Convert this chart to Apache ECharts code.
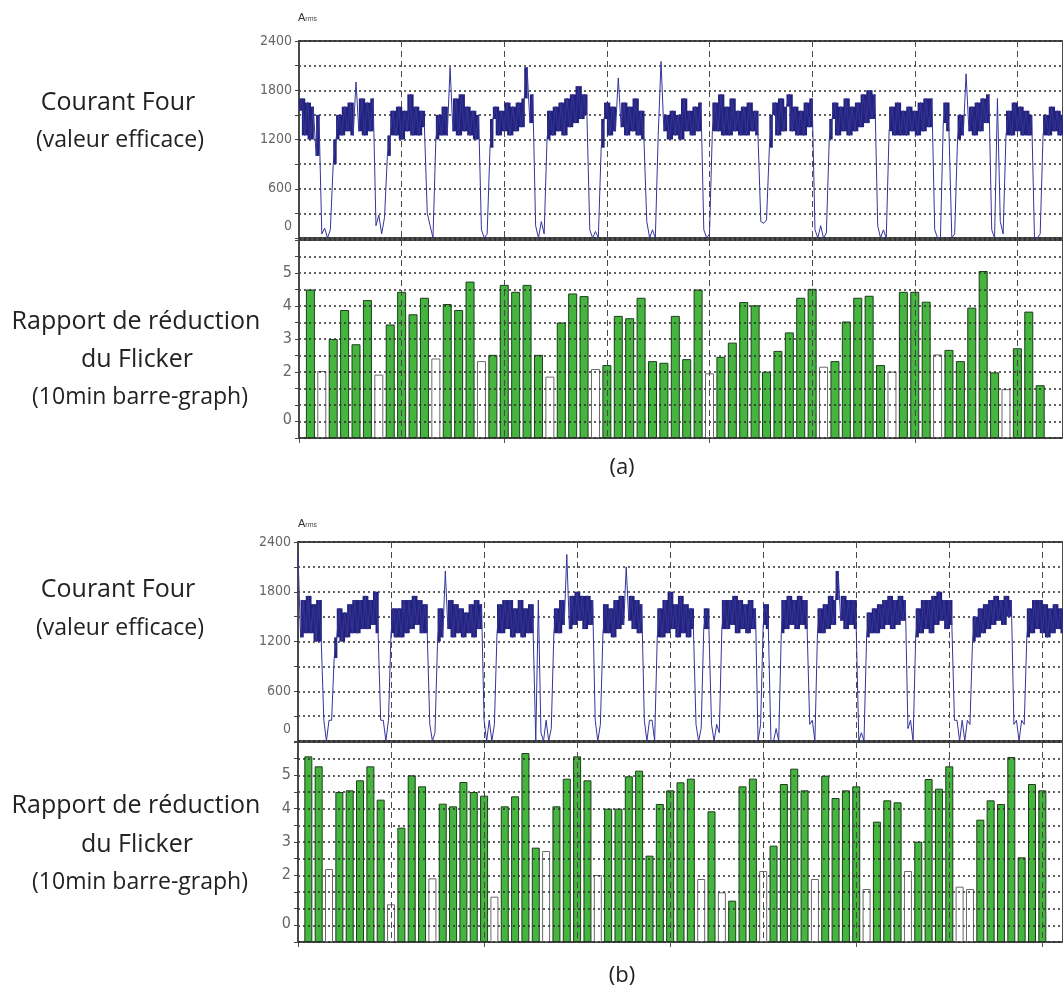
<!DOCTYPE html>
<html><head><meta charset="utf-8">
<script src="https://cdn.jsdelivr.net/npm/echarts@6/dist/echarts.min.js"></script>
<style>html,body{margin:0;padding:0;background:#fff}#c{width:1063px;height:989px}</style>
</head><body><div id="c"></div>
<script>
// time unit = one 10-min bar period; current sampled every STEP units
const STEP = 0.25;
const currentA = [1550,1700,1250,1650,1200,1600,1000,1500,
 50,120,0,100,
 900,1200,1500,1250,1600,1300,1650,1250,1900,1300,1700,1250,1650,1300,1700,
 150,280,50,250,
 1000,1250,1550,1250,1600,1200,1550,1300,1750,1250,1600,1250,1550,1350,
 300,150,0,
 1200,1500,1250,1600,1250,2080,1300,1700,1250,1750,1300,1600,1250,1550,1200,1500,
 100,0,50,
 1100,1450,1600,1250,1550,1300,1650,1250,1600,1300,1650,1350,1700,2080,1400,1750,
 150,0,200,50,
 1200,1550,1250,1600,1300,1650,1250,1700,1350,1750,1400,1850,1450,1750,1500,
 100,0,80,0,
 1100,1450,1650,1250,1600,1300,1950,1350,1650,1250,1600,1300,1700,1250,1550,1200,
 200,0,100,0,
 1250,2150,1300,1500,1200,1550,1250,1500,1200,1700,1300,1550,1250,1600,1300,1650,
 100,0,50,
 1300,1650,1300,1750,1250,1600,1250,1700,1300,1550,1250,1600,1250,1650,1300,1550,1250,
 200,180,220,
 1100,1500,1650,1250,1700,1300,1600,1750,1300,1600,1250,1550,1250,1650,1350,1700,
 100,0,150,0,60,
 1200,1450,1650,1250,1600,1300,1700,1250,1600,1300,1650,1350,1750,1400,1800,1450,1750,
 150,0,100,0,
 1300,1600,1250,1650,1250,1550,1250,1600,1300,1550,1250,1650,1300,1700,1350,1700,
 100,0,0,
 1400,1650,1300,
 0,50,
 1200,1500,1250,2000,1300,1600,1250,1650,1300,1700,1400,1750,
 100,0,1700,200,50,
 1250,1550,1250,1650,1300,1600,1250,1550,1250,1500,
 0,0,50,
 1250,1500,1250,1600,1300,1550,1250,1500];

const currentB = [2250,1250,1700,1300,1750,1300,1650,1200,1700,1200,
 250,0,250,250,
 1000,1250,1600,1200,1550,1250,1650,1300,1700,1300,1700,1350,1750,1350,1700,1400,1800,1300,
 250,250,0,250,
 1300,1600,1250,1600,1250,1700,1300,1700,1350,1750,1400,1700,1300,1650,1300,
 200,0,100,
 1200,1600,1250,2050,1350,1700,1250,1650,1300,1600,1250,1550,1300,1650,1250,1700,1350,1650,
 250,0,250,0,200,
 1300,1650,1300,1700,1350,1700,1250,1600,1300,1700,1250,1600,1300,1650,1300,
 0,1700,100,0,250,0,150,
 1300,1600,1300,1700,1400,2250,1350,1750,1400,1800,1450,1750,1350,1750,1400,1700,
 250,0,200,
 1300,1650,1300,1600,1250,1700,1350,1750,1400,2100,1450,1750,1350,1700,1300,1650,
 250,0,250,250,0,
 1250,1600,1250,1700,1300,1800,1350,1650,1250,1750,1300,1650,1250,1600,1350,
 200,0,150,
 1350,1600,1350,
 200,0,200,100,
 1350,1700,1350,1700,1400,1750,1300,1700,1350,1650,1300,1700,1350,1600,
 0,200,
 1400,1650,1350,
 0,0,150,0,
 1300,1700,1350,1750,1400,1700,1350,1750,1400,1700,1350,
 200,250,0,
 1300,1600,1300,1650,1350,1750,1400,1700,2050,1450,1750,1350,1700,1400,1700,1350,
 0,100,0,
 1250,1550,1300,1600,1300,1650,1350,1700,1400,1750,1350,1700,1400,1750,1450,1700,
 150,250,0,
 1250,1600,1300,1700,1350,1700,1300,1750,1400,1800,1450,1700,1350,1700,1400,
 250,250,0,250,0,250,200,
 1200,1500,1250,1600,1300,1650,1350,1700,1400,1750,1450,1700,1400,1750,1500,1700,
 200,250,0,250,200,
 1250,1600,1300,1700,1350,1700,1300,1650,1250,1600,1300,1650,1350,1600,1300];

const flickerA = [4.5,2.03,3.0,3.88,2.84,4.18,1.92,3.44,4.43,3.75,4.25,2.41,4.06,3.88,4.74,2.33,
 2.52,4.64,4.43,4.64,2.52,1.86,3.5,4.38,4.3,2.09,2.21,3.7,3.63,4.25,2.33,2.28,
 3.7,2.39,4.5,1.96,2.46,2.89,4.12,4.02,2.01,2.64,3.2,4.25,4.52,2.16,2.33,3.53,
 4.25,4.31,2.21,2.01,4.43,4.43,4.13,2.53,2.67,2.33,3.95,5.06,1.99,1.48,2.72,3.83,1.6];
const whiteBarsA = [2,7,12,16,22,26,36,46,52,56,62];

const flickerB = [5.57,5.27,2.19,4.5,4.55,4.85,5.27,4.27,1.13,3.43,5.0,4.67,1.91,4.15,4.07,4.8,
 4.5,4.39,1.36,4.07,4.37,5.67,2.83,2.73,4.07,4.9,5.57,4.85,2.01,4.0,4.0,4.97,
 5.14,2.59,4.14,4.55,4.79,4.9,1.89,3.92,1.49,1.24,4.67,4.9,2.13,2.89,4.74,5.2,
 4.55,1.89,4.99,4.32,4.55,4.67,1.59,3.61,4.25,4.19,2.13,3.01,4.89,4.6,5.27,1.66,
 1.59,3.67,4.25,4.14,5.55,2.54,4.74,4.55];
const whiteBarsB = [3,9,13,19,24,29,39,41,45,50,55,59,64,65];

const currentTickLabels = [2400,1800,1200,600,0];
const flickerTickLabels = [5,4,3,2,0];

const chart = echarts.init(document.getElementById('c'), null, {renderer:'canvas'});

const dotted = {color:'#2e2e2e', width:1.6, type:[2,3]};
const dashed = {color:'#4a4a4a', width:1, type:[6,4]};
const labelFont = "'Liberation Sans Narrow','DejaVu Sans Condensed','Arial Narrow',sans-serif";
const greenStyle = {color:'#45b53f', borderColor:'#1d3f1b', borderWidth:1};
const whiteStyle = {color:'#ffffff', borderColor:'#6a6a6a', borderWidth:1};
const TRACE = '#23237c';

function gridDef(left, top, width, height){
  return {left, top, width, height, show:true, borderColor:'#4a4a4a', borderWidth:2, backgroundColor:'transparent'};
}
function xAx(gi, max, z){
  return {type:'value', gridIndex:gi, min:0, max:max, interval:9, z:z,
    axisLine:{show:false}, axisLabel:{show:false}, axisTick:{show:false},
    splitLine:{show:true, lineStyle:dashed}};
}
// extra axis only for the small ticks under the bar panels
function xTickAx(gi, max){
  return {type:'value', gridIndex:gi, min:0, max:max, interval:18, position:'bottom',
    axisLine:{show:false}, axisLabel:{show:false}, splitLine:{show:false},
    axisTick:{show:true, length:5, inside:false, lineStyle:{color:'#555'}}};
}
function yCur(gi){
  return {type:'value', gridIndex:gi, min:0, max:2400, interval:300,
    axisLine:{show:false},
    axisTick:{show:true, length:4, inside:false, lineStyle:{color:'#444'}},
    splitLine:{show:true, lineStyle:dotted},
    axisLabel:{margin:7, color:'#666', fontSize:14, fontFamily:labelFont,
      formatter:v=> currentTickLabels.includes(v) ? (v===0 ? '{z|0}\n{z| }' : String(v)) : '',
      rich:{z:{lineHeight:24, fontSize:14, fontFamily:labelFont, color:'#666'}}}};
}
function yFlk(gi){
  return {type:'value', gridIndex:gi, min:0, max:6, interval:0.5, z:6,
    axisLine:{show:false},
    axisTick:{show:true, length:4, inside:false, lineStyle:{color:'#444'}},
    splitLine:{show:true, lineStyle:dotted},
    axisLabel:{margin:7, color:'#666', fontSize:16, fontFamily:labelFont,
      formatter:v=> flickerTickLabels.includes(v) ? (v===0 ? '{z|0}\n{z| }' : String(v)) : '',
      rich:{z:{lineHeight:36, fontSize:16, fontFamily:labelFont, color:'#666'}}}};
}
function barData(vals, whites){
  return vals.map((v,i)=>({value:[i+1, v], itemStyle: whites.includes(i+1) ? whiteStyle : greenStyle}));
}
function lineSeries(vals, gi){
  return {type:'line', xAxisIndex:gi, yAxisIndex:gi, data: vals.map((v,i)=>[i*STEP, v]),
    showSymbol:false, symbol:'none', silent:true, clip:true, z:3,
    lineStyle:{color:'#34349a', width:1}};
}
// dense noise band: fills the min-max box of each consecutive pair of on-state samples
function bandSeries(vals, gi){
  const d = [];
  for (let i = 0; i < vals.length - 1; i++) {
    const a = vals[i], b = vals[i+1];
    if (a >= 900 && b >= 900 && Math.abs(a - b) <= 500) d.push([i*STEP, a, b]);
  }
  return {type:'custom', xAxisIndex:gi, yAxisIndex:gi, data:d, silent:true, clip:true, z:2,
    encode:{x:0, y:[1,2]},
    renderItem:(params, api)=>{
      const x0 = api.value(0), a = api.value(1), b = api.value(2);
      const p0 = api.coord([x0, Math.min(a,b)]);
      const p1 = api.coord([x0 + STEP, Math.max(a,b)]);
      return {type:'rect', shape:{x:p0[0], y:p1[1], width:p1[0]-p0[0]+0.6, height:p0[1]-p1[1]},
        style:{fill:TRACE}};
    }};
}
function barSeries(vals, whites, gi, bw){
  return {type:'bar', xAxisIndex:gi, yAxisIndex:gi, data: barData(vals, whites), barWidth:bw, silent:true};
}

function txt(text, x, y, size){
  return {type:'text', x:x, y:y, style:{text:text, x:0, y:0, align:'center', verticalAlign:'middle',
    textAlign:'center', textVerticalAlign:'middle', fontSize:size, fontFamily:"'Open Sans',sans-serif", fill:'#222'}};
}
function arms(x, y){
  return {type:'text', x:x, y:y, style:{text:'{a|A}{s|rms}', x:0, y:0,
    rich:{a:{fontSize:11, fontFamily:'Liberation Sans', fill:'#333', color:'#333'}, s:{fontSize:7, fontFamily:'Liberation Sans', fill:'#444', color:'#444', padding:[4,0,0,0]}}}};
}

chart.setOption({
  animation:false,
  backgroundColor:'#ffffff',
  grid:[gridDef(299,41,782,197), gridDef(299,240,782,198), gridDef(298,542,777,199), gridDef(298,742,777,200)],
  xAxis:[xAx(0,67,0), xAx(1,67,6), xAx(2,74,0), xAx(3,74,6), xTickAx(1,67), xTickAx(3,74)],
  yAxis:[yCur(0), yFlk(1), yCur(2), yFlk(3)],
  series:[bandSeries(currentA,0), lineSeries(currentA,0), barSeries(flickerA, whiteBarsA, 1, 9),
          bandSeries(currentB,2), lineSeries(currentB,2), barSeries(flickerB, whiteBarsB, 3, 8)],
  graphic:[
    arms(298, 12), arms(298, 518),
    txt('Courant Four', 118, 103, 25), txt('(valeur efficace)', 120, 140, 23),
    txt('Rapport de réduction', 136, 322, 25), txt('du Flicker', 137, 360, 25), txt('(10min barre-graph)', 140, 397, 23),
    txt('Courant Four', 118, 590, 25), txt('(valeur efficace)', 120, 628, 23),
    txt('Rapport de réduction', 136, 806, 25), txt('du Flicker', 137, 845, 25), txt('(10min barre-graph)', 140, 882, 23),
    txt('(a)', 622, 468, 22), txt('(b)', 622, 976, 22)
  ]
});
</script></body></html>
